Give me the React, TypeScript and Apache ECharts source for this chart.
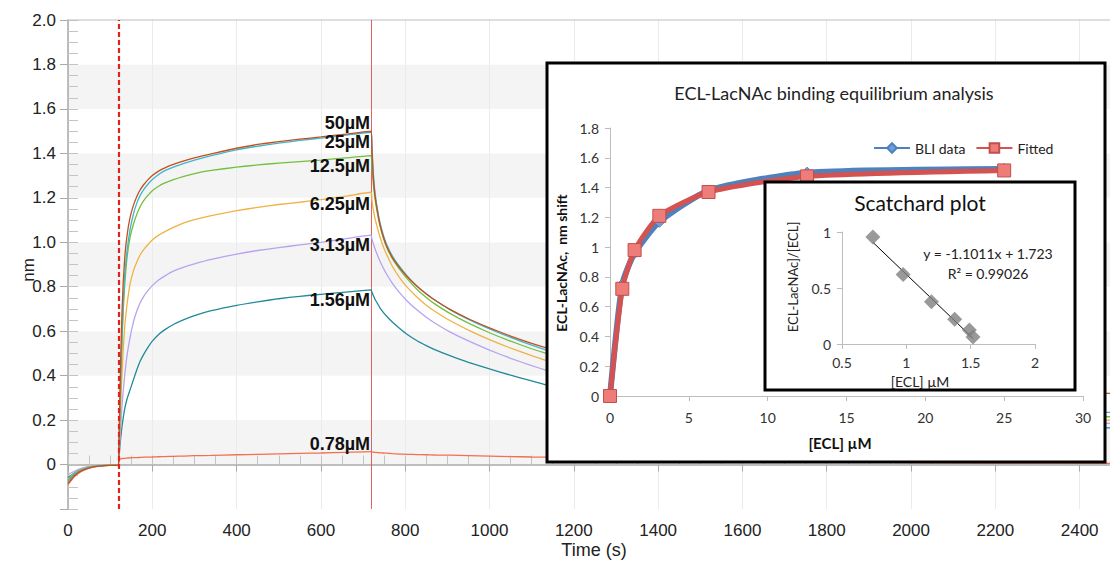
import React, { useEffect, useRef } from 'react';
import * as echarts from 'echarts';

// ---------- Main sensorgram data (time in s, response in nm) ----------
const T = [0, 15, 30, 45, 60, 80, 100, 119,
  121, 123, 125, 128, 131, 135, 140, 147, 155, 163, 171, 180, 190, 200, 215, 230, 250, 275, 300, 340, 400, 450, 500, 550, 600, 660, 719,
  721, 724, 728, 734, 740, 748, 756, 770, 787, 805, 827, 850, 870, 906, 950, 1000, 1050, 1100, 1135, 1250, 1400, 1600, 1800, 2000, 2200, 2472];

const S50 = [-0.085, -0.05, -0.03, -0.018, -0.01, -0.006, -0.004, -0.003,
  0.10, 0.30, 0.48, 0.68, 0.82, 0.94, 1.03, 1.11, 1.165, 1.205, 1.235, 1.26, 1.282, 1.30, 1.32, 1.335, 1.35, 1.366, 1.38, 1.398, 1.423, 1.44, 1.453, 1.464, 1.474, 1.487, 1.50,
  1.42, 1.30, 1.215, 1.14, 1.08, 1.025, 0.982, 0.93, 0.885, 0.845, 0.803, 0.767, 0.74, 0.698, 0.656, 0.615, 0.578, 0.545, 0.525, 0.465, 0.415, 0.375, 0.352, 0.337, 0.327, 0.32];

const S25 = [-0.075, -0.045, -0.027, -0.016, -0.009, -0.005, -0.004, -0.003,
  0.08, 0.25, 0.40, 0.58, 0.73, 0.86, 0.96, 1.055, 1.125, 1.175, 1.21, 1.238, 1.262, 1.282, 1.305, 1.322, 1.338, 1.355, 1.37, 1.39, 1.416, 1.432, 1.446, 1.458, 1.469, 1.482, 1.495,
  1.44, 1.32, 1.23, 1.15, 1.09, 1.033, 0.99, 0.937, 0.89, 0.848, 0.805, 0.768, 0.74, 0.697, 0.653, 0.61, 0.572, 0.537, 0.515, 0.44, 0.365, 0.305, 0.27, 0.252, 0.242, 0.235];

const S12 = [-0.07, -0.042, -0.025, -0.015, -0.009, -0.005, -0.003, -0.002,
  0.07, 0.22, 0.36, 0.54, 0.69, 0.82, 0.93, 1.02, 1.08, 1.125, 1.16, 1.188, 1.212, 1.232, 1.252, 1.267, 1.282, 1.297, 1.309, 1.323, 1.338, 1.348, 1.356, 1.363, 1.37, 1.38, 1.39,
  1.34, 1.27, 1.20, 1.13, 1.075, 1.02, 0.978, 0.925, 0.878, 0.835, 0.79, 0.752, 0.723, 0.68, 0.636, 0.593, 0.555, 0.521, 0.50, 0.432, 0.36, 0.295, 0.255, 0.234, 0.223, 0.215];

const S6 = [-0.065, -0.04, -0.024, -0.014, -0.008, -0.005, -0.003, -0.002,
  0.05, 0.15, 0.26, 0.40, 0.52, 0.63, 0.72, 0.81, 0.87, 0.91, 0.943, 0.968, 0.99, 1.01, 1.032, 1.048, 1.067, 1.087, 1.102, 1.12, 1.142, 1.157, 1.17, 1.18, 1.192, 1.208, 1.225,
  1.19, 1.15, 1.11, 1.065, 1.025, 0.98, 0.945, 0.89, 0.84, 0.797, 0.755, 0.717, 0.69, 0.648, 0.605, 0.562, 0.524, 0.49, 0.468, 0.40, 0.33, 0.275, 0.24, 0.22, 0.208, 0.20];

const S3 = [-0.045, -0.03, -0.018, -0.011, -0.007, -0.004, -0.002, -0.001,
  0.04, 0.10, 0.17, 0.26, 0.33, 0.41, 0.49, 0.57, 0.64, 0.69, 0.727, 0.758, 0.784, 0.805, 0.83, 0.849, 0.87, 0.888, 0.903, 0.923, 0.947, 0.963, 0.976, 0.988, 1.00, 1.016, 1.032,
  1.015, 0.995, 0.972, 0.943, 0.916, 0.884, 0.856, 0.814, 0.772, 0.735, 0.697, 0.663, 0.637, 0.597, 0.556, 0.515, 0.478, 0.445, 0.424, 0.36, 0.30, 0.25, 0.218, 0.20, 0.19, 0.185];

const S1 = [-0.06, -0.038, -0.022, -0.013, -0.008, -0.005, -0.003, -0.002,
  0.04, 0.08, 0.12, 0.17, 0.21, 0.255, 0.295, 0.335, 0.38, 0.425, 0.465, 0.497, 0.528, 0.555, 0.585, 0.607, 0.63, 0.652, 0.67, 0.692, 0.716, 0.732, 0.746, 0.757, 0.766, 0.776, 0.786,
  0.775, 0.762, 0.745, 0.725, 0.705, 0.685, 0.667, 0.64, 0.612, 0.585, 0.558, 0.535, 0.517, 0.49, 0.46, 0.43, 0.402, 0.376, 0.358, 0.31, 0.265, 0.225, 0.197, 0.18, 0.17, 0.165];

const S078 = [-0.09, -0.055, -0.033, -0.02, -0.012, -0.007, -0.004, -0.003,
  0.022, 0.025, 0.026, 0.027, 0.028, 0.028, 0.029, 0.03, 0.031, 0.031, 0.032, 0.033, 0.033, 0.034, 0.035, 0.036, 0.037, 0.038, 0.04, 0.041, 0.044, 0.046, 0.048, 0.05, 0.052, 0.055, 0.058,
  0.057, 0.056, 0.055, 0.054, 0.053, 0.052, 0.051, 0.049, 0.047, 0.046, 0.045, 0.044, 0.043, 0.042, 0.04, 0.038, 0.036, 0.034, 0.033, 0.028, 0.022, 0.016, 0.012, 0.009, 0.007, 0.005];

const TRACES = [S50, S25, S12, S6, S3, S1, S078];
const TRACE_NAMES = ['50µM', '25µM', '12.5µM', '6.25µM', '3.13µM', '1.56µM', '0.78µM'];
const TRACE_COLORS = ['#c4501f', '#3db7cf', '#72bf3e', '#efb245', '#b9a2ee', '#218a99', '#f26f4f'];
const LABEL_DY = [-8, 10, 10, 12, 10, 10, -8];

const Y_MIN = -0.2;
const Y_MAX = 2.0;
const ASSOC_START = 120;
const DISSOC_START = 720;

// ---------- Inset: binding equilibrium ----------
const BLI_X = [0, 0.78, 1.56, 3.13, 6.25, 12.5, 25];
const BLI_Y = [0, 0.75, 0.96, 1.17, 1.38, 1.50, 1.525];
const FIT_Y = [0, 0.72, 0.98, 1.21, 1.37, 1.475, 1.515];

// ---------- Scatchard plot ----------
const SC_X = [0.74, 0.975, 1.195, 1.376, 1.49, 1.518];
const SC_Y = [0.955, 0.62, 0.377, 0.22, 0.125, 0.062];
const TREND_X = [0.74, 1.52];
const TREND_Y = [0.908, 0.049];

const MAIN_FONT = '"Liberation Sans", Arial, sans-serif';
const INSET_FONT = 'Lato, "Open Sans", sans-serif';

function fmt1(v: number) {
  const r = Math.round(v * 100) / 100;
  return String(r);
}

const centered = { textAlign: 'center', textVerticalAlign: 'middle', align: 'center', verticalAlign: 'middle' };

export default function App() {
  const ref = useRef<HTMLDivElement>(null);
  useEffect(() => {
    if (!ref.current) return;
    const chart = echarts.init(ref.current, undefined, { renderer: 'svg' });
    const endIdx = T.indexOf(719);

    const mainSeries: any[] = TRACES.map((arr, si) => ({
      type: 'line',
      name: TRACE_NAMES[si],
      xAxisIndex: 0,
      yAxisIndex: 0,
      data: T.map((t, i) => [t, arr[i]]),
      symbol: 'none',
      showSymbol: false,
      smooth: 0.15,
      lineStyle: { width: 1.3, color: TRACE_COLORS[si] },
      itemStyle: { color: TRACE_COLORS[si] },
      z: 2 + (6 - si) * 0.01,
      silent: true,
      markPoint: {
        symbol: 'circle',
        symbolSize: 0,
        silent: true,
        data: [{ coord: [719, arr[endIdx]], name: TRACE_NAMES[si] }],
        label: {
          show: true,
          position: 'left',
          distance: 1,
          offset: [0, LABEL_DY[si]],
          formatter: TRACE_NAMES[si],
          fontFamily: MAIN_FONT,
          fontSize: 18,
          fontWeight: 'bold',
          color: '#111',
        },
      },
      markLine: si === 6 ? {
        silent: true,
        symbol: 'none',
        label: { show: false },
        data: [
          { xAxis: ASSOC_START, lineStyle: { color: '#e3221c', width: 2.2, type: [5, 3] } },
        ],
      } : undefined,
    }));

    const option: any = {
      animation: false,
      textStyle: { fontFamily: MAIN_FONT },
      grid: [
        { left: 68, top: 20, right: 0, bottom: 53 },
        { left: 610, top: 128, right: 27, bottom: 166 },
        { left: 842, top: 232, right: 75, bottom: 218 },
      ],
      xAxis: [
        {
          type: 'value', gridIndex: 0, min: 0, max: 2472, interval: 200,
          axisLine: { lineStyle: { color: '#a9a9a9', width: 1.5 } },
          axisTick: { length: 7, lineStyle: { color: '#a9a9a9' } },
          axisLabel: {
            fontSize: 17, color: '#222', margin: 13, fontFamily: MAIN_FONT,
            showMaxLabel: false,
            formatter: (v: number) => (v % 200 === 0 ? String(v) : ''),
          },
          splitLine: { show: true, lineStyle: { color: '#ebebeb' } },
        },
        {
          type: 'value', gridIndex: 0, min: 0, max: 2472, interval: 50, position: 'bottom',
          axisLine: { show: false },
          axisTick: { show: true, inside: true, length: 9, lineStyle: { color: '#c4c4c4' } },
          axisLabel: { show: false },
          splitLine: { show: false },
        },
        {
          type: 'value', gridIndex: 1, min: 0, max: 30, interval: 5, z: 10,
          axisLine: { lineStyle: { color: '#bdbdbd', width: 1 } },
          axisTick: { length: 5, lineStyle: { color: '#bdbdbd' } },
          axisLabel: { fontSize: 14, color: '#333', margin: 14, fontFamily: INSET_FONT },
          splitLine: { show: false },
        },
        {
          type: 'value', gridIndex: 2, min: 0.5, max: 2, interval: 0.5, z: 15,
          axisLine: { lineStyle: { color: '#bdbdbd', width: 1 } },
          axisTick: { length: 5, lineStyle: { color: '#bdbdbd' } },
          axisLabel: { fontSize: 14, color: '#333', margin: 11, fontFamily: INSET_FONT, formatter: fmt1 },
          splitLine: { show: false },
        },
      ],
      yAxis: [
        {
          type: 'value', gridIndex: 0, min: Y_MIN, max: Y_MAX, interval: 0.2,
          axisLine: { show: true, lineStyle: { color: '#a9a9a9', width: 1.5 } },
          axisTick: { show: true, length: 8, lineStyle: { color: '#a9a9a9' } },
          axisLabel: {
            fontSize: 17, color: '#222', margin: 12, fontFamily: MAIN_FONT,
            formatter: (v: number) => (Math.abs(v) < 1e-9 ? '0' : v < 0 ? '' : v.toFixed(1)),
          },
          splitLine: { show: false },
          splitArea: { show: true, areaStyle: { color: ['#ffffff', '#f4f4f4'] } },
        },
        {
          type: 'value', gridIndex: 0, min: Y_MIN, max: Y_MAX, interval: 0.05, position: 'left',
          axisLine: { show: false },
          axisTick: { show: true, inside: true, length: 10, lineStyle: { color: '#c4c4c4' } },
          axisLabel: { show: false },
          splitLine: { show: false },
        },
        {
          type: 'value', gridIndex: 1, min: 0, max: 1.8, interval: 0.2, z: 10,
          axisLine: { show: true, lineStyle: { color: '#bdbdbd', width: 1 } },
          axisTick: { show: true, length: 5, lineStyle: { color: '#bdbdbd' } },
          axisLabel: { fontSize: 14, color: '#333', margin: 11, fontFamily: INSET_FONT, formatter: fmt1 },
          splitLine: { show: false },
        },
        {
          type: 'value', gridIndex: 2, min: 0, max: 1, interval: 0.5, z: 15,
          axisLine: { show: true, lineStyle: { color: '#bdbdbd', width: 1 } },
          axisTick: { show: true, length: 5, lineStyle: { color: '#bdbdbd' } },
          axisLabel: { fontSize: 14, color: '#333', margin: 11, fontFamily: INSET_FONT, formatter: fmt1 },
          splitLine: { show: false },
        },
      ],
      legend: {
        data: ['BLI data', 'Fitted'],
        left: 868, top: 136,
        itemWidth: 36, itemHeight: 12, itemGap: 10,
        textStyle: { fontFamily: INSET_FONT, fontSize: 14, color: '#222' },
        z: 20,
      },
      series: [
        {
          type: 'line', name: 'dissociation start', xAxisIndex: 0, yAxisIndex: 0,
          data: [[DISSOC_START, Y_MIN], [DISSOC_START, Y_MAX]],
          symbol: 'none', silent: true,
          lineStyle: { width: 1, color: '#d9453f', opacity: 0.85 },
          itemStyle: { color: '#d9453f' },
          z: 1.5,
        },
        ...mainSeries,
        {
          type: 'line', name: 'BLI data', xAxisIndex: 2, yAxisIndex: 2,
          data: BLI_X.map((x, i) => [x, BLI_Y[i]]),
          smooth: 0.2,
          symbol: 'diamond', symbolSize: 11,
          lineStyle: { width: 6, color: '#4f81bd' },
          itemStyle: { color: '#6d9fd8', borderColor: '#4f81bd', borderWidth: 1 },
          z: 10,
        },
        {
          type: 'line', name: 'Fitted', xAxisIndex: 2, yAxisIndex: 2,
          data: BLI_X.map((x, i) => [x, FIT_Y[i]]),
          smooth: 0.2,
          symbol: 'rect', symbolSize: 13,
          lineStyle: { width: 5, color: '#d4524f' },
          itemStyle: { color: '#ee7d7a', borderColor: '#c0504d', borderWidth: 1 },
          z: 11,
        },
        {
          type: 'line', name: 'trend', xAxisIndex: 3, yAxisIndex: 3,
          data: TREND_X.map((x, i) => [x, TREND_Y[i]]),
          symbol: 'none',
          lineStyle: { width: 1, color: '#000' },
          z: 16,
        },
        {
          type: 'scatter', name: 'scatchard', xAxisIndex: 3, yAxisIndex: 3,
          data: SC_X.map((x, i) => [x, SC_Y[i]]),
          symbol: 'diamond', symbolSize: 15,
          itemStyle: { color: '#7f7f7f' },
          z: 17,
        },
      ],
      graphic: [
        { type: 'line', z: 1, shape: { x1: 68, y1: 20, x2: 1110, y2: 20 }, style: { stroke: '#bdbdbd', lineWidth: 1 } },
        { type: 'rect', z: 5, shape: { x: 547, y: 63, width: 558, height: 399 }, style: { fill: '#ffffff', stroke: '#000', lineWidth: 3 } },
        { type: 'rect', z: 12, shape: { x: 765, y: 182, width: 310, height: 208 }, style: { fill: '#ffffff', stroke: '#000', lineWidth: 3 } },
        { type: 'text', z: 20, x: 834, y: 93, style: { text: 'ECL-LacNAc binding equilibrium analysis', font: `18px ${INSET_FONT}`, fill: '#222', ...centered } },
        { type: 'text', z: 20, x: 561, y: 263, rotation: Math.PI / 2, style: { text: 'ECL-LacNAc,  nm shift', font: `bold 14px ${INSET_FONT}`, fill: '#111', ...centered } },
        { type: 'text', z: 20, x: 840, y: 443, style: { text: '[ECL] µM', font: `bold 15px ${INSET_FONT}`, fill: '#111', ...centered } },
        { type: 'text', z: 20, x: 920, y: 202, style: { text: 'Scatchard plot', font: `21px ${INSET_FONT}`, fill: '#111', ...centered } },
        { type: 'text', z: 20, x: 793, y: 277, rotation: Math.PI / 2, style: { text: 'ECL-LacNAc]/[ECL]', font: `13px ${INSET_FONT}`, fill: '#222', ...centered } },
        { type: 'text', z: 20, x: 920, y: 381, style: { text: '[ECL] µM', font: `14px ${INSET_FONT}`, fill: '#222', ...centered } },
        { type: 'text', z: 20, x: 988, y: 253, style: { text: 'y = -1.1011x + 1.723', font: `14px ${INSET_FONT}`, fill: '#222', ...centered } },
        { type: 'text', z: 20, x: 988, y: 273, style: { text: 'R² = 0.99026', font: `14px ${INSET_FONT}`, fill: '#222', ...centered } },
        { type: 'text', z: 20, x: 28, y: 270, rotation: Math.PI / 2, style: { text: 'nm', font: `17px ${MAIN_FONT}`, fill: '#222', ...centered } },
        { type: 'text', z: 20, x: 594, y: 550, style: { text: 'Time (s)', font: `18px ${MAIN_FONT}`, fill: '#222', ...centered } },
      ],
    };
    chart.setOption(option);
    return () => chart.dispose();
  }, []);
  return <div ref={ref} style={{ position: 'absolute', left: 0, top: 0, width: 1110, height: 562 }} />;
}
